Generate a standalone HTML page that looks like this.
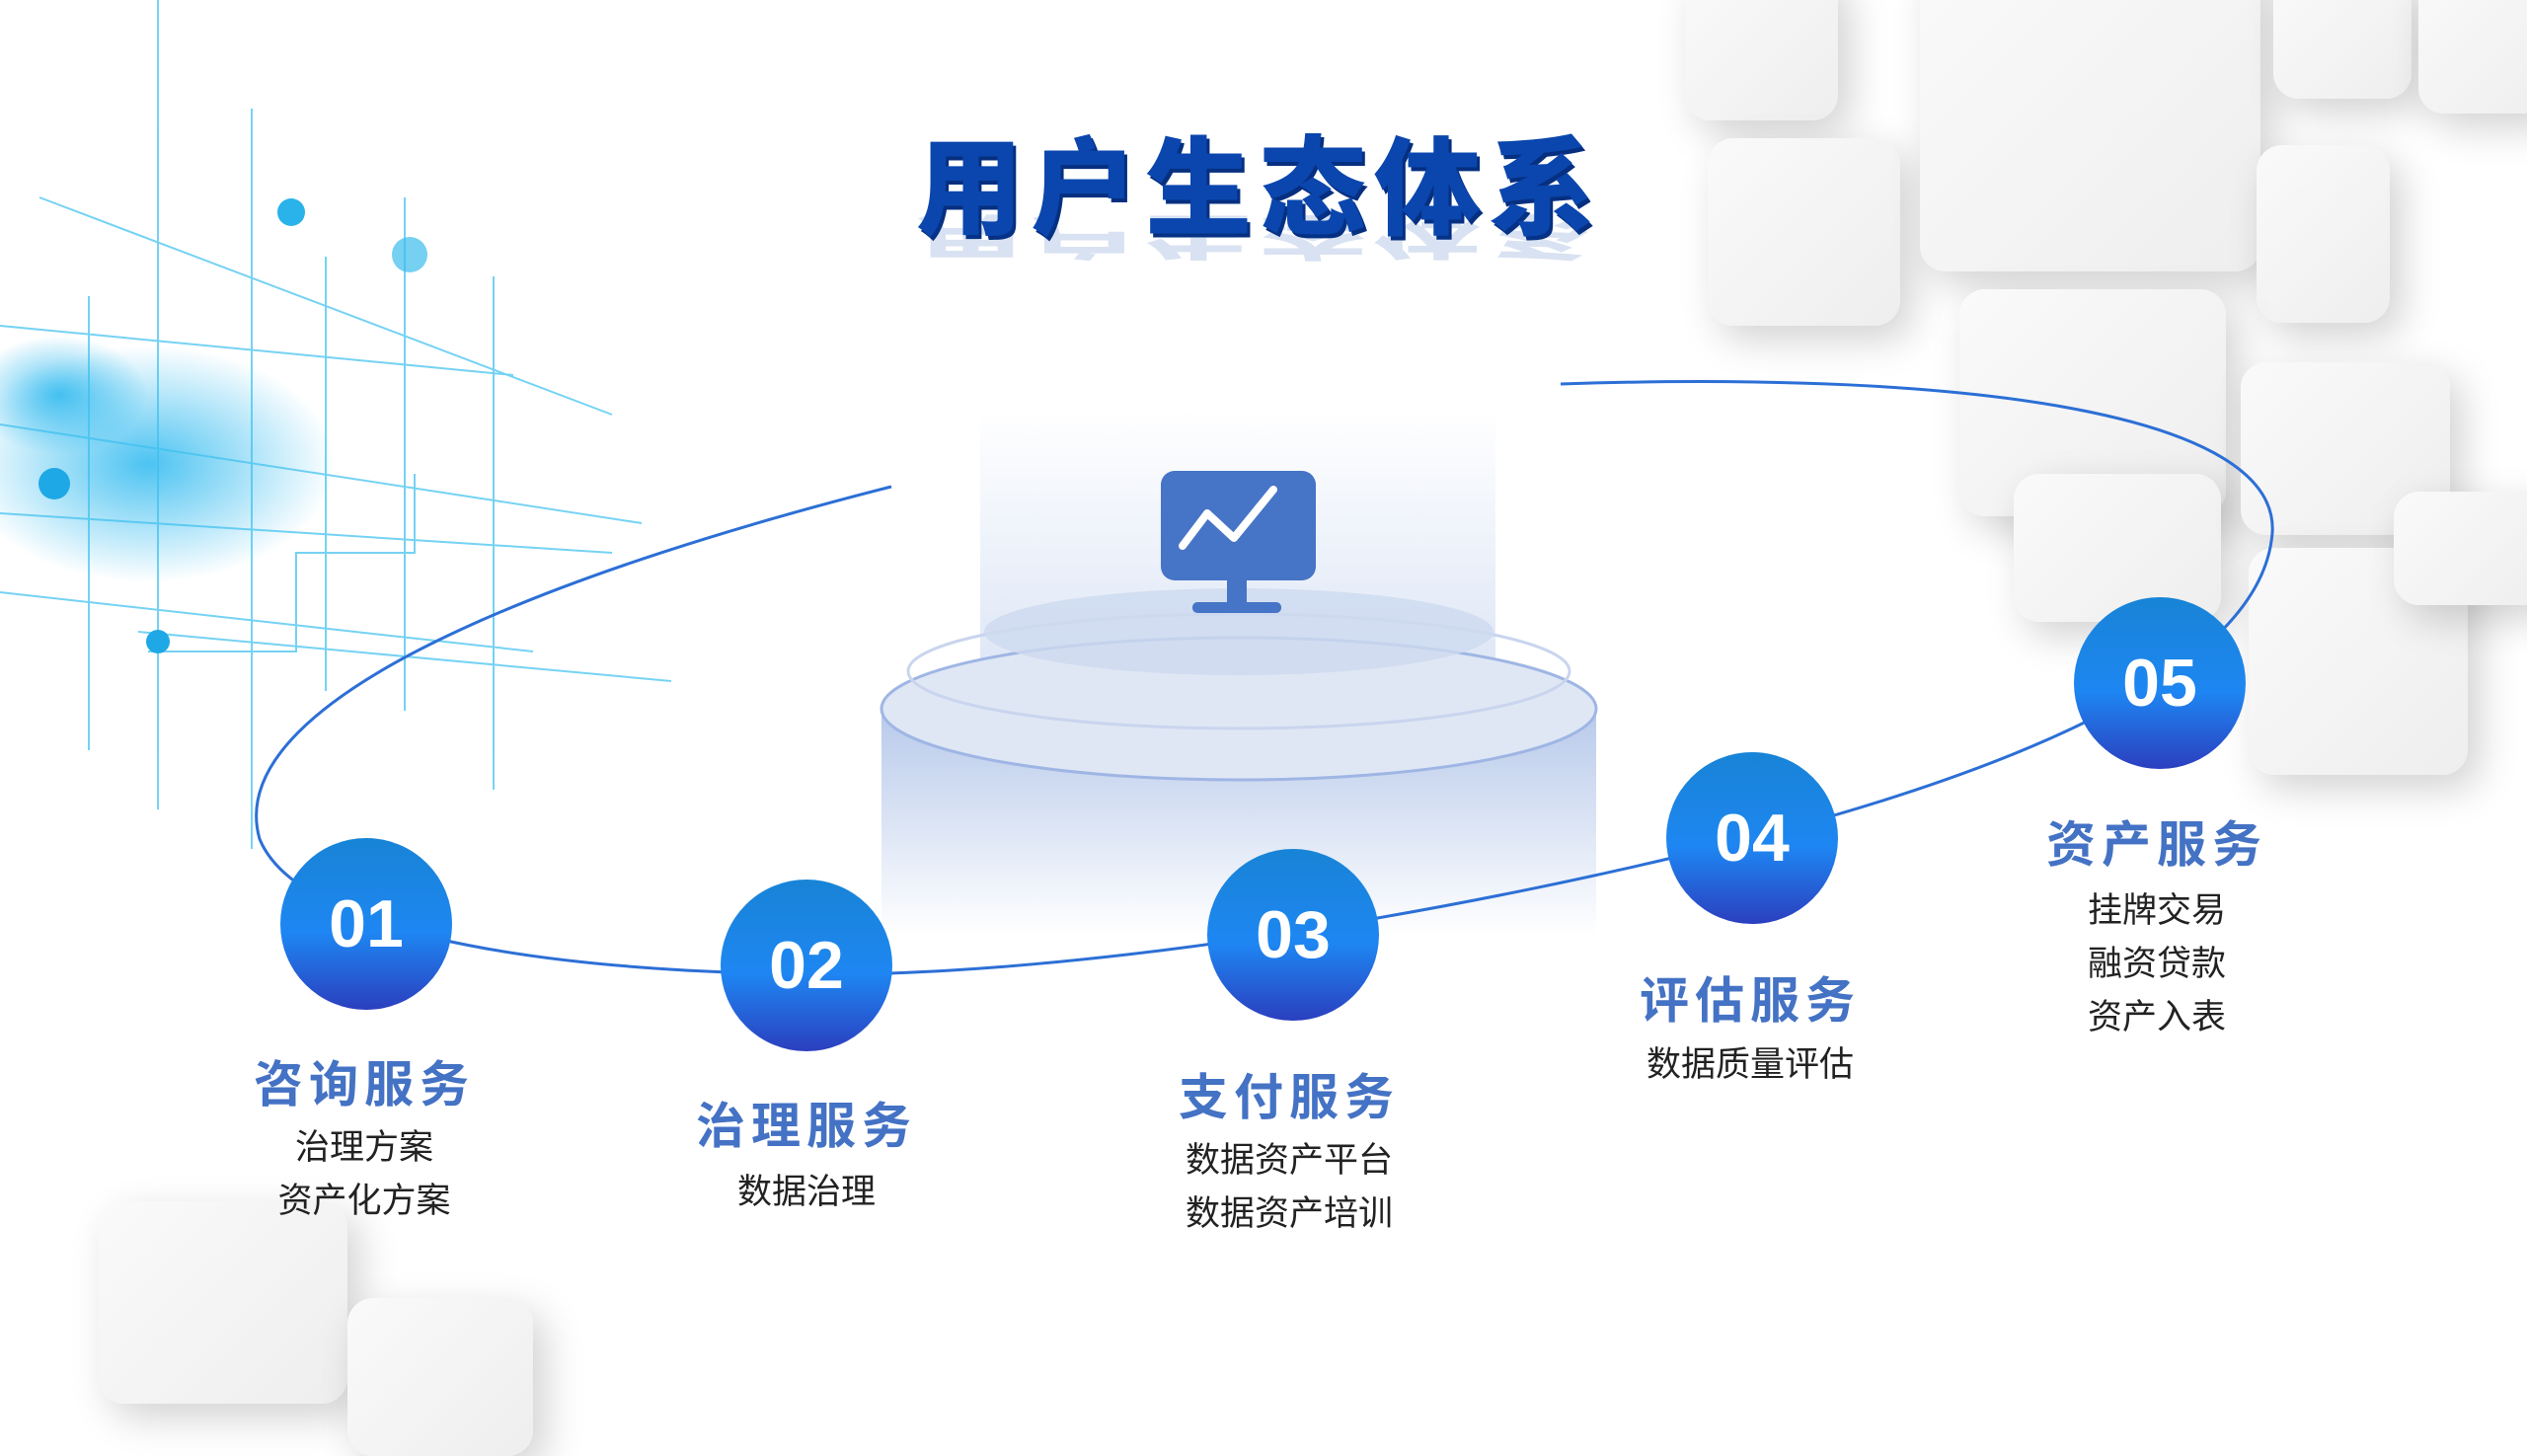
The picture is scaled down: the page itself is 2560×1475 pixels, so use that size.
<!DOCTYPE html>
<html><head><meta charset="utf-8"><style>
html,body{margin:0;padding:0}
body{width:2560px;height:1440px;position:relative;overflow:hidden;background:#fff;font-family:"Liberation Sans","Noto Sans CJK SC",sans-serif}
.sq{position:absolute;background:linear-gradient(135deg,#fafafa,#eeeeee);border-radius:26px;box-shadow:12px 14px 40px rgba(0,0,0,0.18)}
.t{position:absolute;transform:translateX(-50%);white-space:nowrap;text-align:center}
.h{font-weight:bold;color:#4472c4;font-size:50px;letter-spacing:6px}
.s{color:#222;font-size:35px;line-height:54px}
.c{position:absolute;width:174px;height:174px;border-radius:50%;transform:translate(-50%,-50%);background:linear-gradient(180deg,#1884d6 0%,#1e86f2 55%,#2b3fbf 100%);color:#fff;font-weight:bold;font-size:68px;display:flex;align-items:center;justify-content:center}
</style></head><body>
<div class="sq" style="left:1707px;top:-30px;width:155px;height:152px"></div>
<div class="sq" style="left:1730px;top:140px;width:195px;height:190px"></div>
<div class="sq" style="left:1945px;top:-40px;width:345px;height:315px"></div>
<div class="sq" style="left:2303px;top:-30px;width:140px;height:130px"></div>
<div class="sq" style="left:2450px;top:-30px;width:140px;height:145px"></div>
<div class="sq" style="left:2286px;top:147px;width:135px;height:180px"></div>
<div class="sq" style="left:1985px;top:293px;width:270px;height:230px"></div>
<div class="sq" style="left:2040px;top:480px;width:210px;height:150px"></div>
<div class="sq" style="left:2270px;top:367px;width:212px;height:175px"></div>
<div class="sq" style="left:2278px;top:555px;width:222px;height:230px"></div>
<div class="sq" style="left:2425px;top:498px;width:160px;height:115px"></div>
<div class="sq" style="left:100px;top:1217px;width:252px;height:205px"></div>
<div class="sq" style="left:352px;top:1315px;width:188px;height:160px"></div>
<svg style="position:absolute;left:0;top:0" width="700" height="880">
<defs><radialGradient id="g1"><stop offset="0" stop-color="#1fb4ee" stop-opacity=".8"/><stop offset="1" stop-color="#1fb4ee" stop-opacity="0"/></radialGradient></defs>
<ellipse cx="150" cy="470" rx="190" ry="120" fill="url(#g1)"/>
<ellipse cx="60" cy="400" rx="90" ry="60" fill="url(#g1)"/>
<g stroke="#3cc0ef" stroke-width="2" fill="none" opacity=".7">
<path d="M160 0V820M255 110V860M330 260V700M500 280V800M410 200V720M90 300V760"/>
<path d="M0 430L650 530M0 520L620 560M40 200L620 420M0 600L540 660M140 640L680 690M0 330L520 380"/>
<path d="M150 660H300V560H420V480"/>
</g>
<circle cx="295" cy="215" r="14" fill="#2ab2ea"/><circle cx="415" cy="258" r="18" fill="#3bbcec" opacity=".7"/>
<circle cx="55" cy="490" r="16" fill="#1fa8e6"/><circle cx="160" cy="650" r="12" fill="#1fa8e6"/>
</svg>
<div style="position:absolute;left:928px;top:118px;font-size:108px;font-weight:900;letter-spacing:8px;color:#0a46ad;text-shadow:3px 4px 0 #062f80;font-family:'Noto Sans CJK SC','WenQuanYi Zen Hei',sans-serif;line-height:130px">用户生态体系</div>
<div style="position:absolute;left:928px;top:272px;font-size:108px;font-weight:900;letter-spacing:8px;color:#0a46ad;opacity:.15;transform:scaleY(-0.45);transform-origin:top;font-family:'Noto Sans CJK SC',sans-serif;line-height:130px">用户生态体系</div>
<svg style="position:absolute;left:0;top:0" width="2560" height="1440">
<defs>
<linearGradient id="glow" x1="0" y1="0" x2="0" y2="1"><stop offset="0" stop-color="#dde6f6" stop-opacity="0"/><stop offset="1" stop-color="#dde6f6"/></linearGradient>
<linearGradient id="cyl" x1="0" y1="0" x2="0" y2="1"><stop offset="0" stop-color="#b7c9ea"/><stop offset="1" stop-color="#b7c9ea" stop-opacity="0"/></linearGradient>
</defs>
<rect x="993" y="415" width="522" height="270" fill="url(#glow)"/>
<rect x="893" y="718" width="724" height="230" fill="url(#cyl)"/>
<ellipse cx="1255" cy="718" rx="362" ry="72" fill="#dfe7f5" stroke="#9fb6e4" stroke-width="3"/>
<ellipse cx="1255" cy="680" rx="335" ry="58" fill="none" stroke="#c9d5ee" stroke-width="3"/>
<ellipse cx="1255" cy="640" rx="258" ry="44" fill="#cdd9ef" opacity=".8"/>
<rect x="1176" y="477" width="157" height="111" rx="14" fill="#4674c6"/>
<path d="M1198 553L1223 520L1250 545L1290 496" stroke="#fff" stroke-width="8" fill="none" stroke-linecap="round" stroke-linejoin="round"/>
<rect x="1243" y="588" width="20" height="24" fill="#4674c6"/>
<rect x="1208" y="610" width="90" height="11" rx="5" fill="#4674c6"/>
<path d="M903 493 C 600 570, 220 700, 263 850 C 300 940, 520 983, 817 987 C 1100 990, 1500 920, 1775 849 C 2000 790, 2290 690, 2302 540 C 2310 420, 2000 375, 1581 389" stroke="#2c6fd6" stroke-width="3" fill="none"/>
</svg>
<div class="c" style="left:371px;top:936px">01</div>
<div class="c" style="left:817px;top:978px">02</div>
<div class="c" style="left:1310px;top:947px">03</div>
<div class="c" style="left:1775px;top:849px">04</div>
<div class="c" style="left:2188px;top:692px">05</div>
<div class="t h" style="left:369px;top:1059px">咨询服务</div>
<div class="t s" style="left:369px;top:1136px">治理方案<br>资产化方案</div>
<div class="t h" style="left:817px;top:1101px">治理服务</div>
<div class="t s" style="left:817px;top:1181px">数据治理</div>
<div class="t h" style="left:1306px;top:1072px">支付服务</div>
<div class="t s" style="left:1306px;top:1149px">数据资产平台<br>数据资产培训</div>
<div class="t h" style="left:1773px;top:974px">评估服务</div>
<div class="t s" style="left:1773px;top:1052px">数据质量评估</div>
<div class="t h" style="left:2185px;top:816px">资产服务</div>
<div class="t s" style="left:2185px;top:896px">挂牌交易<br>融资贷款<br>资产入表</div>
</body></html>
